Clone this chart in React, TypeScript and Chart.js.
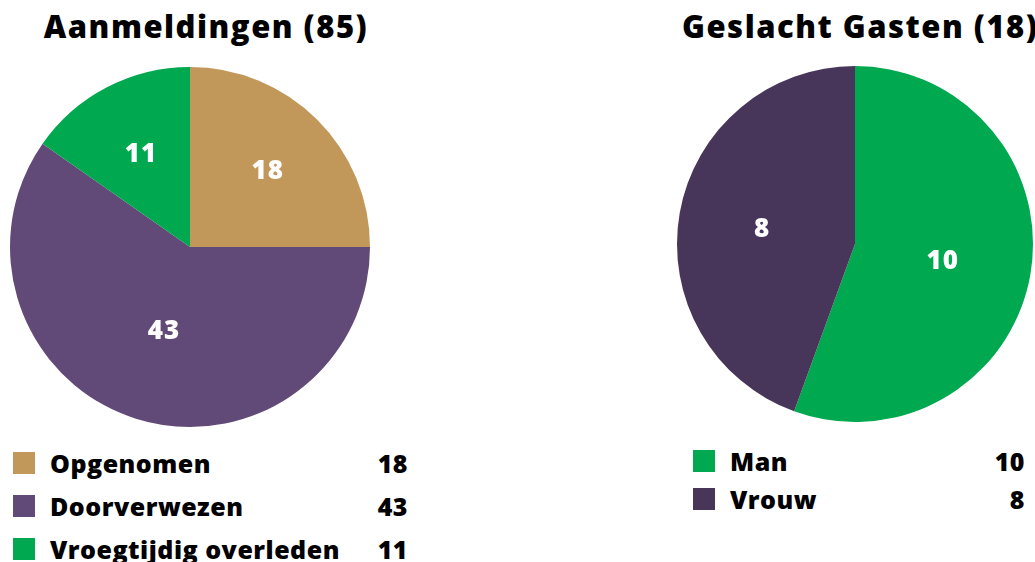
import React, { useEffect, useRef } from "react";
import { Chart, registerables } from "chart.js";

Chart.register(...registerables);

const leftTitle = "Aanmeldingen (85)";
const leftLabels = ["Opgenomen", "Doorverwezen", "Vroegtijdig overleden"];
const leftValues = [18, 43, 11];
const leftColors = ["#C2985A", "#614A78", "#00A84F"];

const rightTitle = "Geslacht Gasten (18)";
const rightLabels = ["Man", "Vrouw"];
const rightValues = [10, 8];
const rightColors = ["#00A84F", "#47365A"];

const FONT = "'Open Sans', 'DejaVu Sans', sans-serif";

function makeLabelPlugin(fracs: number[]) {
  return {
    id: "sliceLabels",
    afterDatasetsDraw(chart: any) {
      const ctx = chart.ctx;
      const meta = chart.getDatasetMeta(0);
      const data = chart.data.datasets[0].data;
      ctx.save();
      ctx.fillStyle = "#ffffff";
      ctx.font = `800 26px ${FONT}`;
      try { (ctx as any).letterSpacing = "1px"; } catch (e) {}
      ctx.textAlign = "center";
      ctx.textBaseline = "middle";
      meta.data.forEach((arc: any, i: number) => {
        const p = arc.getProps(["x", "y", "startAngle", "endAngle", "outerRadius"], true);
        const mid = (p.startAngle + p.endAngle) / 2;
        const r = p.outerRadius * (fracs[i] ?? 0.55);
        ctx.fillText(String(data[i]), p.x + Math.cos(mid) * r, p.y + Math.sin(mid) * r + 2);
      });
      ctx.restore();
    },
  };
}

function Pie({ labels, values, colors, fracs, style }: any) {
  const ref = useRef<HTMLCanvasElement>(null);
  useEffect(() => {
    if (!ref.current) return;
    const chart = new Chart(ref.current, {
      type: "pie",
      data: {
        labels,
        datasets: [{ data: values, backgroundColor: colors, borderWidth: 0 }],
      },
      options: {
        responsive: false,
        animation: false,
        layout: { padding: 0 },
        plugins: { legend: { display: false }, tooltip: { enabled: false }, title: { display: false } },
      },
      plugins: [makeLabelPlugin(fracs)],
    });
    return () => chart.destroy();
  }, []);
  return (
    <canvas
      ref={ref}
      width={style.width}
      height={style.height}
      style={{ position: "absolute", ...style }}
    />
  );
}

function Legend({ labels, values, colors, left, top, width, rowH }: any) {
  return (
    <div style={{ position: "absolute", left, top, width }}>
      {labels.map((l: string, i: number) => (
        <div
          key={l}
          style={{ display: "flex", alignItems: "center", height: rowH, fontFamily: FONT, fontWeight: 800, fontSize: 25, letterSpacing: "0.5px", color: "#000" }}
        >
          <div style={{ width: 22, height: 22, background: colors[i], marginRight: 15, flex: "none" }} />
          <span style={{ flex: 1, whiteSpace: "nowrap" }}>{l}</span>
          <span style={{ textAlign: "right" }}>{values[i]}</span>
        </div>
      ))}
    </div>
  );
}

const titleStyle: any = {
  position: "absolute",
  top: 4,
  fontFamily: FONT,
  fontWeight: 800,
  fontSize: 31,
  letterSpacing: "1.5px",
  lineHeight: "44px",
  color: "#000",
  whiteSpace: "nowrap",
};

export default function App() {
  return (
    <div style={{ position: "fixed", left: 0, top: 0, width: 1035, height: 562, overflow: "hidden", background: "#fff" }}>
      <div style={{ ...titleStyle, left: 0, width: 412, textAlign: "center" }}>{leftTitle}</div>
      <div style={{ ...titleStyle, left: 682 }}>{rightTitle}</div>
      <Pie labels={leftLabels} values={leftValues} colors={leftColors} fracs={[0.61, 0.48, 0.59]} style={{ left: 10, top: 67, width: 360, height: 360 }} />
      <Pie labels={rightLabels} values={rightValues} colors={rightColors} fracs={[0.5, 0.53]} style={{ left: 677, top: 66, width: 356, height: 356 }} />
      <Legend labels={leftLabels} values={leftValues} colors={leftColors} left={13} top={441} width={395} rowH={43} />
      <Legend labels={rightLabels} values={rightValues} colors={rightColors} left={693} top={442} width={332} rowH={38} />
    </div>
  );
}
